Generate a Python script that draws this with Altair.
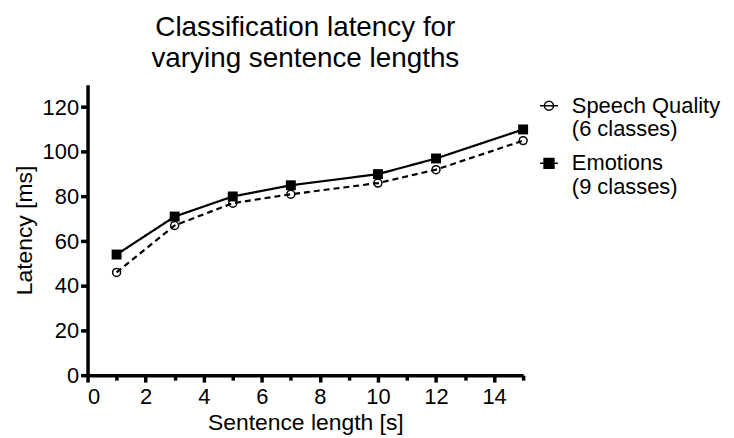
import altair as alt
import pandas as pd

lengths = [1, 3, 5, 7, 10, 12, 15]
speech_quality = [46, 67, 77, 81, 86, 92, 105]
emotions = [54, 71, 80, 85, 90, 97, 110]
series_names = ["Speech Quality|(6 classes)", "Emotions|(9 classes)"]

rows = []
for x, a, b in zip(lengths, speech_quality, emotions):
    rows.append({"len": x, "lat": a, "series": series_names[0], "dash": "d"})
    rows.append({"len": x, "lat": b, "series": series_names[1], "dash": "s"})
df = pd.DataFrame(rows)

FONT = "Liberation Sans"

axis_style = dict(domainWidth=3.5, domainColor="black", tickWidth=3.5, tickColor="black",
                  labelFont=FONT, labelFontSize=22, labelColor="black",
                  titleFont=FONT, titleFontSize=23, titleFontWeight="normal", titleColor="black",
                  grid=False)

CIRCLE_GLYPH = "M-1,0L1,0M-0.5,0A0.5,0.5,0,1,1,0.5,0A0.5,0.5,0,1,1,-0.5,0Z"
SQUARE_GLYPH = "M-1,0L1,0M-0.55,-0.55L0.55,-0.55L0.55,0.55L-0.55,0.55Z"

legend = alt.Legend(title=None, labelExpr="split(datum.label, '|')",
                    orient="none", legendX=453, legendY=10)

base = alt.Chart(df).encode(
    x=alt.X("len:Q", scale=alt.Scale(domain=[0, 15], nice=False),
            title="Sentence length [s]",
            axis=alt.Axis(values=list(range(0, 16)),
                          labelExpr="datum.value % 2 == 0 ? datum.label : ''",
                          tickSize={"condition": {"test": "datum.value % 2 == 0", "value": 7}, "value": 5},
                          labelPadding=5, titlePadding=4, **axis_style)),
    y=alt.Y("lat:Q", scale=alt.Scale(domain=[0, 130], nice=False),
            title="Latency [ms]",
            axis=alt.Axis(values=[0, 20, 40, 60, 80, 100, 120], tickSize=7, labelPadding=2,
                          titlePadding=6, **axis_style)),
)

lines = base.mark_line(color="black", strokeWidth=2.2).encode(
    strokeDash=alt.StrokeDash("dash:N", scale=alt.Scale(domain=["d", "s"], range=[[6, 4], [1, 0]]), legend=None),
)

circles = base.mark_point(color="black", shape="circle", size=64, strokeWidth=1.5, filled=False,
                          opacity=1).transform_filter(alt.datum.dash == "d")
squares = base.mark_point(color="black", shape="square", size=100, filled=True,
                          opacity=1).transform_filter(alt.datum.dash == "s")

legend_layer = base.mark_point(opacity=1, strokeWidth=1.5).encode(
    shape=alt.Shape("series:N", scale=alt.Scale(domain=series_names, range=[CIRCLE_GLYPH, SQUARE_GLYPH]),
                    legend=legend),
    fill=alt.Fill("series:N", scale=alt.Scale(domain=series_names, range=["transparent", "black"]),
                  legend=legend),
    stroke=alt.Stroke("series:N", scale=alt.Scale(domain=series_names, range=["black", "black"]),
                      legend=legend),
).transform_filter("false")

chart = alt.layer(lines, circles, squares, legend_layer).properties(
    width=438, height=292,
    title=alt.TitleParams(["Classification latency for", "varying sentence lengths"],
                          fontSize=28, font=FONT, fontWeight="normal", lineHeight=31, offset=12,
                          color="black"),
).configure_legend(
    labelFont=FONT, labelFontSize=22, labelColor="black",
    symbolStrokeWidth=1.5, symbolSize=324, labelLimit=400, rowPadding=12,
    labelOffset=12, padding=0,
).configure_view(stroke=None)

chart.save("out.html", embed_options={"renderer": "svg", "actions": False})
